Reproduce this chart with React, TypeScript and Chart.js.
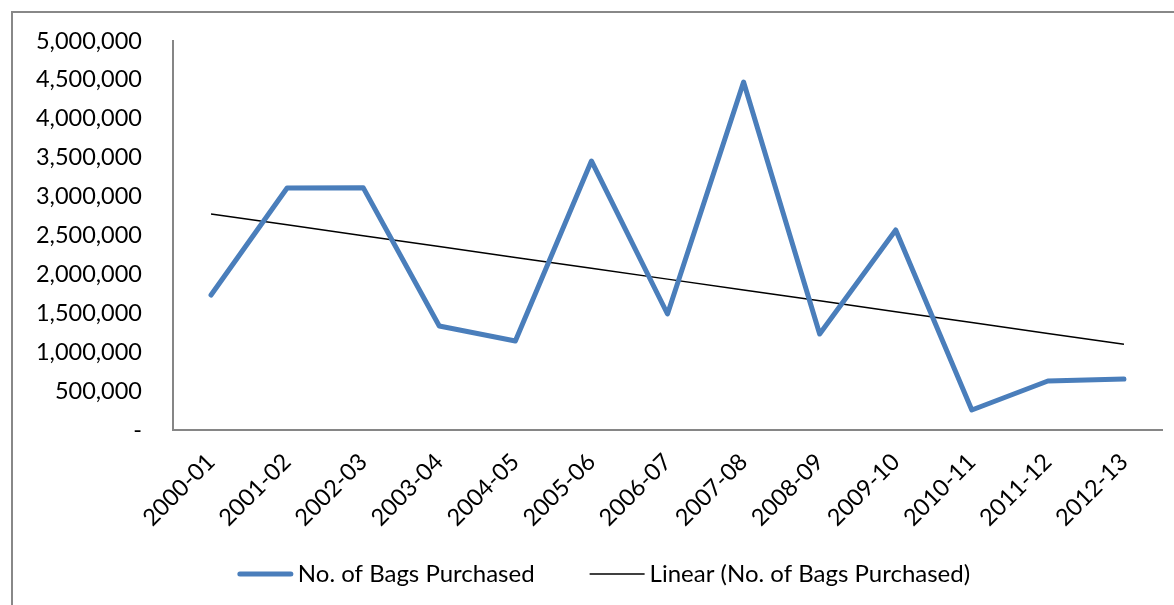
import React, { useEffect, useRef } from "react";
import { Chart, registerables } from "chart.js";

Chart.register(...registerables);

const categories = [
  "2000-01", "2001-02", "2002-03", "2003-04", "2004-05", "2005-06", "2006-07",
  "2007-08", "2008-09", "2009-10", "2010-11", "2011-12", "2012-13",
];

const bagsPurchased = [
  1735000, 3110000, 3115000, 1337000, 1144000, 3458000, 1491000,
  4473000, 1234000, 2571000, 257000, 630000, 656000,
];

const seriesName = "No. of Bags Purchased";
const trendName = "Linear (No. of Bags Purchased)";

const yMin = 0;
const yMax = 5000000;
const yStep = 500000;

function linearTrend(values: number[]): number[] {
  const n = values.length;
  const xs = values.map((_, i) => i);
  const mx = xs.reduce((a, b) => a + b, 0) / n;
  const my = values.reduce((a, b) => a + b, 0) / n;
  let num = 0;
  let den = 0;
  for (let i = 0; i < n; i++) {
    num += (xs[i] - mx) * (values[i] - my);
    den += (xs[i] - mx) * (xs[i] - mx);
  }
  const slope = num / den;
  const icpt = my - slope * mx;
  return xs.map((x) => icpt + slope * x);
}

const FONT = "Lato, 'Open Sans', sans-serif";

// Excel-style legend drawn below the axis labels
const bottomLegend = {
  id: "bottomLegend",
  afterDraw(chart: any) {
    const ctx = chart.ctx;
    const sampleW = 55;
    const textGap = 5;
    const itemGap = 55;
    const centerX = 604;
    const y = 574;
    ctx.save();
    ctx.font = `24px ${FONT}`;
    const items = chart.data.datasets.map((ds: any) => ({
      label: ds.label,
      color: ds.borderColor,
      width: ds.borderWidth,
      textW: ctx.measureText(ds.label).width,
    }));
    const total =
      items.reduce((a: number, it: any) => a + sampleW + textGap + it.textW, 0) +
      itemGap * (items.length - 1);
    let x = centerX - total / 2;
    items.forEach((it: any) => {
      ctx.beginPath();
      ctx.strokeStyle = it.color;
      ctx.lineWidth = it.width;
      ctx.lineCap = it.width > 2 ? "round" : "butt";
      ctx.moveTo(x + (it.width > 2 ? 2 : 0), y);
      ctx.lineTo(x + sampleW - (it.width > 2 ? 2 : 0), y);
      ctx.stroke();
      ctx.fillStyle = "#000";
      ctx.textBaseline = "middle";
      ctx.textAlign = "left";
      ctx.fillText(it.label, x + sampleW + textGap, y);
      x += sampleW + textGap + it.textW + itemGap;
    });
    ctx.restore();
  },
};

export default function App() {
  const ref = useRef<HTMLCanvasElement | null>(null);

  useEffect(() => {
    if (!ref.current) return;
    const chart = new Chart(ref.current, {
      type: "line",
      data: {
        labels: categories,
        datasets: [
          {
            label: seriesName,
            data: bagsPurchased,
            borderColor: "#4A7EBB",
            backgroundColor: "#4A7EBB",
            borderWidth: 5,
            pointRadius: 0,
            borderJoinStyle: "round",
            borderCapStyle: "round",
            tension: 0,
          },
          {
            label: trendName,
            data: linearTrend(bagsPurchased),
            borderColor: "#000000",
            backgroundColor: "#000000",
            borderWidth: 1.5,
            pointRadius: 0,
            tension: 0,
          },
        ],
      },
      plugins: [bottomLegend],
      options: {
        responsive: false,
        animation: false,
        layout: { padding: { left: 20, top: 41, right: 12, bottom: 0 } },
        font: { family: FONT },
        scales: {
          x: {
            offset: true,
            grid: { display: false, drawTicks: false },
            border: { display: true, color: "#868686", width: 2 },
            ticks: {
              autoSkip: false,
              minRotation: 45,
              maxRotation: 45,
              padding: 18,
              color: "#000",
              font: { family: FONT, size: 23.5 },
            },
            afterFit: (s: any) => {
              s.height = 175;
              s.paddingLeft = 0;
              s.paddingRight = 0;
            },
          },
          y: {
            min: yMin,
            max: yMax,
            grid: { display: false, drawTicks: false },
            border: { display: true, color: "#868686", width: 2 },
            ticks: {
              stepSize: yStep,
              padding: 31,
              color: "#000",
              font: { family: FONT, size: 23.5 },
              callback: (v: any) => (Number(v) === 0 ? "-" : Number(v).toLocaleString("en-US")),
            },
            afterFit: (s: any) => {
              s.width = 153;
              s.paddingTop = 0;
              s.paddingBottom = 0;
            },
          },
        },
        plugins: {
          legend: { display: false },
          tooltip: { enabled: false },
        },
      },
    });
    return () => chart.destroy();
  }, []);

  return (
    <div style={{ position: "fixed", inset: 0, overflow: "hidden", background: "#fff" }}>
      <div
        style={{
          position: "absolute",
          left: 11,
          top: 11,
          width: 1300,
          height: 700,
          borderLeft: "2px solid #888",
          borderTop: "2px solid #888",
        }}
      />
      <canvas
        ref={ref}
        width={1174}
        height={605}
        style={{ position: "absolute", left: 0, top: 0, width: 1174, height: 605 }}
      />
    </div>
  );
}
